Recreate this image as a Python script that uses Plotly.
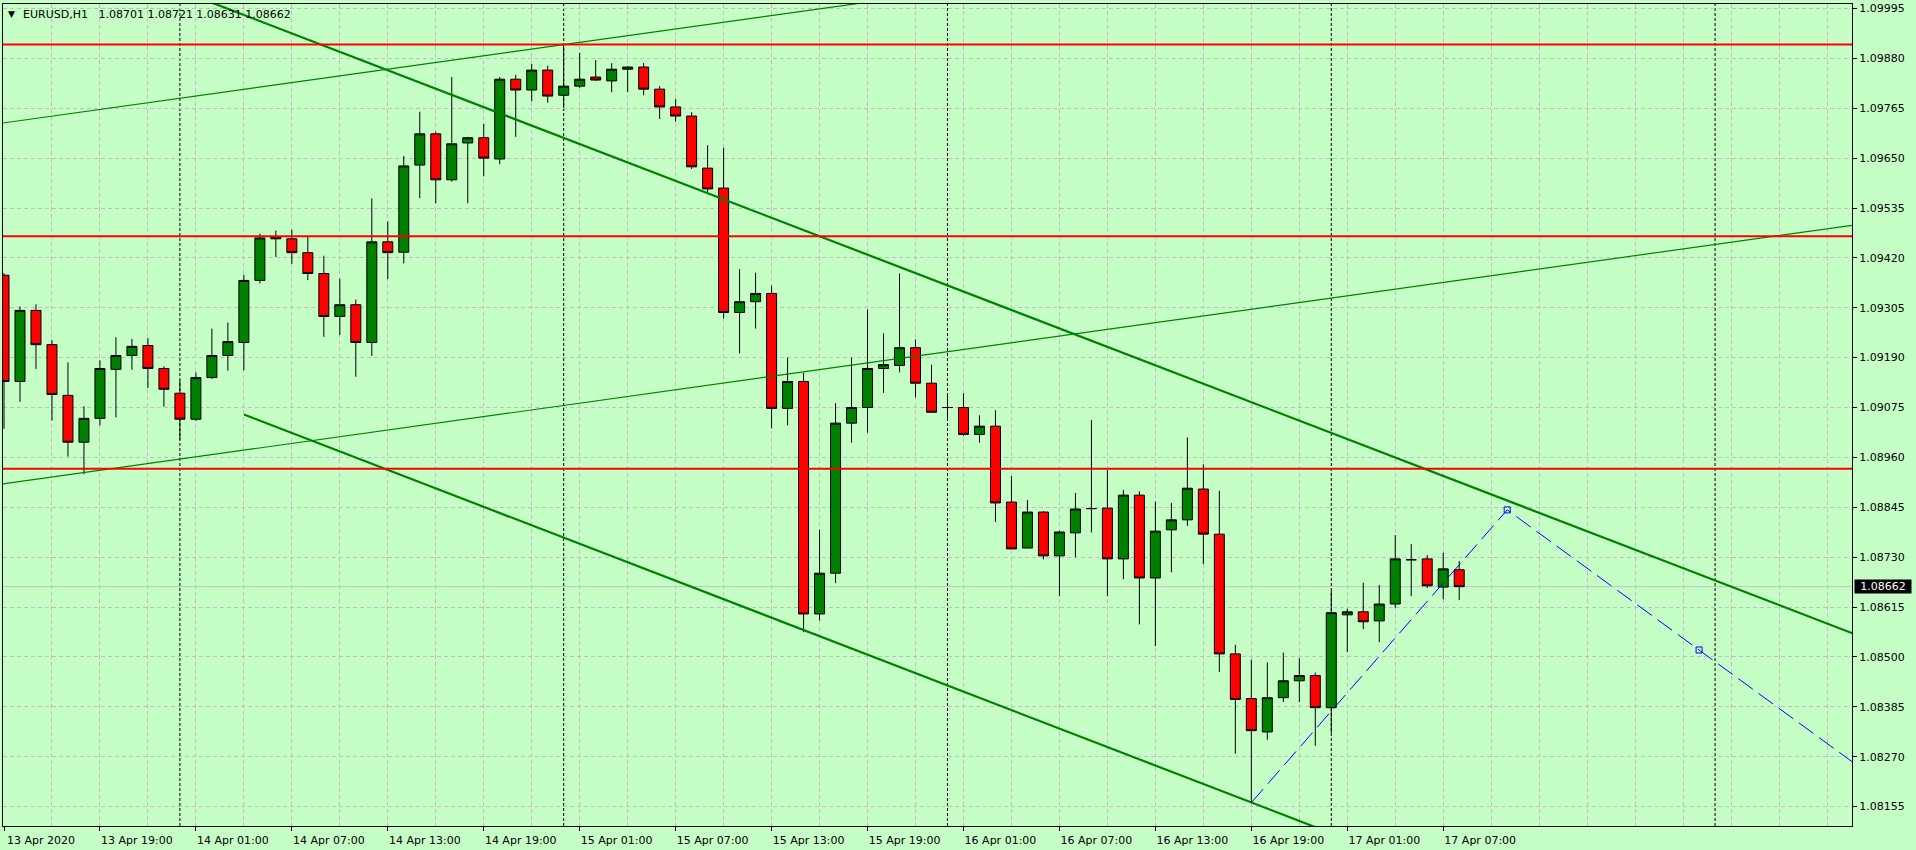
import pandas as pd
import plotly.graph_objects as go

# ---------------- data ----------------
symbol_title = "EURUSD,H1\u00a0\u00a0 1.08701 1.08721 1.08631 1.08662"
start_time = "2020-04-13 13:00"

opens = [1.09380, 1.09135, 1.09299, 1.09220, 1.09103, 1.08995, 1.09050, 1.09163, 1.09195, 1.09218,
         1.09165, 1.09108, 1.09048, 1.09144, 1.09195, 1.09225, 1.09368, 1.09468, 1.09464, 1.09432,
         1.09384, 1.09285, 1.09312, 1.09225, 1.09457, 1.09433, 1.09634, 1.09706, 1.09600, 1.09685,
         1.09697, 1.09648, 1.09832, 1.09807, 1.09853, 1.09795, 1.09816, 1.09837, 1.09828, 1.09855,
         1.09860, 1.09809, 1.09768, 1.09747, 1.09627, 1.09581, 1.09294, 1.09319, 1.09338, 1.09073,
         1.09135, 1.08599, 1.08693, 1.09039, 1.09075, 1.09165, 1.09172, 1.09213, 1.09131, 1.09075,
         1.09075, 1.09013, 1.09032, 1.08857, 1.08751, 1.08834, 1.08733, 1.08786, 1.08842, 1.08843,
         1.08726, 1.08873, 1.08682, 1.08793, 1.08816, 1.08887, 1.08783, 1.08507, 1.08404, 1.08327,
         1.08406, 1.08445, 1.08457, 1.08383, 1.08597, 1.08604, 1.08583, 1.08622, 1.08724, 1.08726,
         1.08661, 1.08701]
highs = [1.09385, 1.09308, 1.09313, 1.09230, 1.09179, 1.09078, 1.09184, 1.09237, 1.09233, 1.09235,
         1.09170, 1.09138, 1.09156, 1.09257, 1.09271, 1.09381, 1.09476, 1.09483, 1.09485, 1.09469,
         1.09425, 1.09372, 1.09324, 1.09557, 1.09504, 1.09655, 1.09757, 1.09711, 1.09837, 1.09699,
         1.09729, 1.09837, 1.09842, 1.09867, 1.09863, 1.09910, 1.09893, 1.09876, 1.09869, 1.09862,
         1.09869, 1.09816, 1.09786, 1.09756, 1.09680, 1.09674, 1.09394, 1.09386, 1.09356, 1.09190,
         1.09155, 1.08793, 1.09085, 1.09190, 1.09301, 1.09246, 1.09384, 1.09232, 1.09174, 1.09108,
         1.09108, 1.09057, 1.09069, 1.08917, 1.08862, 1.08836, 1.08791, 1.08878, 1.09046, 1.08931,
         1.08885, 1.08882, 1.08858, 1.08855, 1.09006, 1.08944, 1.08883, 1.08528, 1.08494, 1.08487,
         1.08510, 1.08497, 1.08464, 1.08652, 1.08611, 1.08671, 1.08666, 1.08781, 1.08760, 1.08735,
         1.08740, 1.08721]
lows = [1.09026, 1.09088, 1.09164, 1.09045, 1.08962, 1.08921, 1.09034, 1.09052, 1.09162, 1.09120,
        1.09077, 1.09001, 1.09044, 1.09141, 1.09160, 1.09161, 1.09361, 1.09422, 1.09406, 1.09369,
        1.09238, 1.09242, 1.09146, 1.09194, 1.09371, 1.09407, 1.09558, 1.09546, 1.09596, 1.09546,
        1.09608, 1.09636, 1.09699, 1.09781, 1.09778, 1.09765, 1.09812, 1.09828, 1.09802, 1.09802,
        1.09795, 1.09740, 1.09734, 1.09625, 1.09570, 1.09280, 1.09200, 1.09257, 1.09027, 1.09034,
        1.08557, 1.08584, 1.08670, 1.08994, 1.09017, 1.09109, 1.09156, 1.09098, 1.09064, 1.09046,
        1.09009, 1.08994, 1.08811, 1.08749, 1.08751, 1.08725, 1.08640, 1.08730, 1.08787, 1.08640,
        1.08679, 1.08575, 1.08525, 1.08695, 1.08802, 1.08714, 1.08465, 1.08277, 1.08164, 1.08309,
        1.08396, 1.08396, 1.08295, 1.08325, 1.08511, 1.08564, 1.08534, 1.08613, 1.08640, 1.08659,
        1.08633, 1.08631]
closes = [1.09135, 1.09299, 1.09220, 1.09105, 1.08995, 1.09050, 1.09165, 1.09195, 1.09216, 1.09165,
          1.09117, 1.09048, 1.09144, 1.09195, 1.09227, 1.09368, 1.09466, 1.09464, 1.09432, 1.09384,
          1.09285, 1.09312, 1.09225, 1.09457, 1.09432, 1.09632, 1.09706, 1.09600, 1.09683, 1.09697,
          1.09650, 1.09832, 1.09807, 1.09853, 1.09793, 1.09816, 1.09832, 1.09830, 1.09855, 1.09860,
          1.09809, 1.09768, 1.09747, 1.09630, 1.09579, 1.09294, 1.09319, 1.09338, 1.09073, 1.09135,
          1.08599, 1.08693, 1.09039, 1.09075, 1.09165, 1.09174, 1.09213, 1.09131, 1.09064, 1.09075,
          1.09013, 1.09032, 1.08855, 1.08749, 1.08834, 1.08733, 1.08788, 1.08841, 1.08842, 1.08726,
          1.08873, 1.08682, 1.08790, 1.08816, 1.08889, 1.08783, 1.08507, 1.08402, 1.08330, 1.08406,
          1.08445, 1.08457, 1.08383, 1.08602, 1.08604, 1.08581, 1.08622, 1.08726, 1.08724, 1.08664,
          1.08703, 1.08662]

# y-axis tick labels (price scale)
y_ticks = [1.08155, 1.08270, 1.08385, 1.08500, 1.08615, 1.08730, 1.08845, 1.08960, 1.09075,
           1.09190, 1.09305, 1.09420, 1.09535, 1.09650, 1.09765, 1.09880, 1.09995]

# horizontal levels (red)
red_levels = [1.09912, 1.09470, 1.08934]

# trend lines: bar-index anchors and prices
channel_upper_idx = [10, 120]
channel_upper_px = [1.10051, 1.08492]
channel_lower_idx = [15, 120]
channel_lower_px = [1.09059, 1.07568]
thin_lower_idx = [-2, 120]
thin_lower_px = [1.08889, 1.09518]
thin_upper_idx = [-2, 70]
thin_upper_px = [1.09721, 1.10092]
blue_idx = [78, 94, 106, 120]
blue_px = [1.08164, 1.08839, 1.08516, 1.08139]
blue_anchor_idx = [94, 106]
blue_anchor_px = [1.08839, 1.08516]

# ---------------- helpers ----------------
BG = "#C6FFC6"
GRID = "#C4BCC4"
FONT = "DejaVu Sans"

t0 = pd.Timestamp(start_time)
times = pd.date_range(t0, periods=len(opens), freq="h")


def at(i):
    return t0 + pd.Timedelta(hours=i)


label_idx = list(range(0, len(opens), 6))
label_vals = [at(i) for i in label_idx]
label_text = [("%d %s %d" % (at(i).day, at(i).strftime("%b"), at(i).year)) if k == 0
              else at(i).strftime("%d %b %H:%M") for k, i in enumerate(label_idx)]
minor_vals = [at(i) for i in range(3, 117, 6)] + [at(i) for i in range(96, 117, 6)]
day_seps = pd.date_range("2020-04-14", "2020-04-18", freq="D")

fig = go.Figure()

fig.add_trace(go.Candlestick(
    x=times, open=opens, high=highs, low=lows, close=closes,
    increasing=dict(line=dict(color="black", width=1), fillcolor="#008000"),
    decreasing=dict(line=dict(color="black", width=1), fillcolor="#FF0000"),
    whiskerwidth=0, showlegend=False, hoverinfo="skip"))

for xs, ys, w in [(channel_upper_idx, channel_upper_px, 2.2),
                  (channel_lower_idx, channel_lower_px, 2.2),
                  (thin_lower_idx, thin_lower_px, 1.2),
                  (thin_upper_idx, thin_upper_px, 1.2)]:
    fig.add_trace(go.Scatter(x=[at(i) for i in xs], y=ys, mode="lines",
                             line=dict(color="#008000", width=w),
                             showlegend=False, hoverinfo="skip"))

fig.add_trace(go.Scatter(x=[at(i) for i in blue_idx], y=blue_px, mode="lines",
                         line=dict(color="#0000FF", width=1, dash="18px,7px"),
                         showlegend=False, hoverinfo="skip"))
fig.add_trace(go.Scatter(x=[at(i) for i in blue_anchor_idx], y=blue_anchor_px, mode="markers",
                         marker=dict(symbol="square-open", size=6, color="#0000FF",
                                     line=dict(width=1, color="#0000FF")),
                         showlegend=False, hoverinfo="skip", cliponaxis=False))

for lv in red_levels:
    fig.add_hline(y=lv, line=dict(color="#FF0000", width=2))

fig.add_hline(y=closes[-1], line=dict(color="#C0C0C0", width=1), layer="below")
for d in day_seps:
    fig.add_vline(x=d, line=dict(color="black", width=1, dash="3px,2px"), layer="below")

y_lo, y_hi = 1.0811015, 1.1000535

fig.update_layout(
    width=1916, height=850,
    margin=dict(l=2, r=64, t=2, b=24),
    paper_bgcolor=BG, plot_bgcolor=BG,
    showlegend=False, boxgap=0.375, boxgroupgap=0,
    font=dict(family=FONT, size=11, color="black"),
)

fig.update_xaxes(
    range=[at(-0.0625), at(115.5625)],
    rangeslider_visible=False,
    tickmode="array", tickvals=label_vals, ticktext=label_text,
    ticks="outside", ticklen=4, tickcolor="black", tickwidth=1,
    ticklabelshift=37,
    tickfont=dict(family=FONT, size=11, color="black"),
    showline=True, mirror=True, linecolor="black", linewidth=1,
    showgrid=True, gridcolor=GRID, gridwidth=1, griddash="4px,3px",
    minor=dict(tickmode="array", tickvals=minor_vals, showgrid=True,
               gridcolor=GRID, gridwidth=1, griddash="4px,3px", ticks=""),
    zeroline=False,
)

fig.update_yaxes(
    side="right", range=[y_lo, y_hi],
    tickmode="array", tickvals=y_ticks, ticktext=["%.5f" % v for v in y_ticks],
    ticks="outside", ticklen=4, tickcolor="black", tickwidth=1,
    tickfont=dict(family=FONT, size=11, color="black"),
    showline=True, mirror=True, linecolor="black", linewidth=1,
    showgrid=True, gridcolor=GRID, gridwidth=1, griddash="4px,3px",
    zeroline=False,
)


# pixel helpers for annotations relative to plot area (x: 2..1852, y: 2..826)
def px_x(X):
    return (X - 2) / 1850.0


def px_y(Y):
    return (826 - Y) / 824.0


fig.add_annotation(x=px_x(11), y=px_y(12.5), xref="paper", yref="paper",
                   text="\u25BC", showarrow=False, xanchor="center", yanchor="middle",
                   font=dict(family=FONT, size=9, color="black"))
fig.add_annotation(x=px_x(20), y=px_y(13), xref="paper", yref="paper",
                   text=symbol_title, showarrow=False, xanchor="left", yanchor="middle",
                   font=dict(family=FONT, size=11, color="black"))
fig.add_annotation(x=1, y=closes[-1], xref="paper", yref="y",
                   text="%.5f" % closes[-1], showarrow=False, xanchor="left", yanchor="middle",
                   xshift=2, bgcolor="black", borderpad=1, width=54, height=11, align="center",
                   font=dict(family=FONT, size=11, color="white"))

fig.write_html("out.html",
               config={"displayModeBar": False},
               post_script="document.body.style.margin='0';document.body.style.overflow='hidden';")
